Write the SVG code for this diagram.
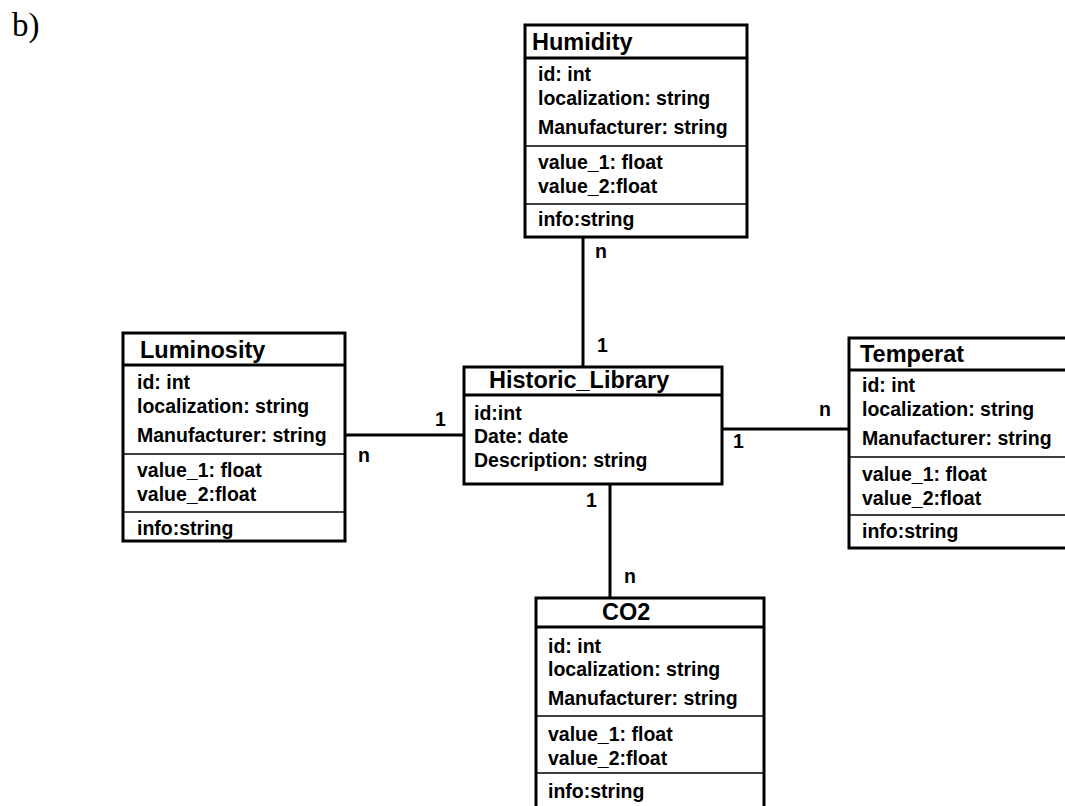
<svg xmlns="http://www.w3.org/2000/svg" width="1065" height="806" viewBox="0 0 1065 806">
<style>
.box{fill:#fff;stroke:#000;stroke-width:3}
.thick{stroke:#000;stroke-width:3}
.thin{stroke:#000;stroke-width:1.5}
.title{font-family:"Liberation Sans",Arial,sans-serif;font-weight:bold;font-size:23.5px;fill:#000}
.attr{font-family:"Liberation Sans",Arial,sans-serif;font-weight:bold;font-size:19.5px;fill:#000}
.lbl{font-family:"Liberation Sans",Arial,sans-serif;font-weight:bold;font-size:19.5px;fill:#000}
.conn{stroke:#000;stroke-width:3;fill:none}
</style>
<rect width="1065" height="806" fill="#fff"/>
<text x="12" y="36" font-family="Liberation Serif,'Times New Roman',serif" font-size="33">b)</text>

<g id="connectors">
<line class="conn" x1="583" y1="237" x2="583" y2="367"/>
<line class="conn" x1="345" y1="435" x2="464" y2="435"/>
<line class="conn" x1="722" y1="429" x2="849" y2="429"/>
<line class="conn" x1="610" y1="484" x2="610" y2="598"/>
<text class="lbl" x="595" y="258">n</text>
<text class="lbl" x="597" y="352">1</text>
<text class="lbl" x="435" y="426">1</text>
<text class="lbl" x="358" y="462">n</text>
<text class="lbl" x="819" y="416">n</text>
<text class="lbl" x="733" y="448">1</text>
<text class="lbl" x="586" y="507">1</text>
<text class="lbl" x="624" y="583">n</text>
</g>

<g id="humidity">
<rect class="box" x="525" y="25" width="222" height="212"/>
<line class="thick" x1="525" y1="58" x2="747" y2="58"/>
<line class="thin" x1="525" y1="146" x2="747" y2="146"/>
<line class="thin" x1="525" y1="204" x2="747" y2="204"/>
<text class="title" x="532" y="50">Humidity</text>
<text class="attr" x="538" y="81">id: int</text>
<text class="attr" x="538" y="105">localization: string</text>
<text class="attr" x="538" y="134">Manufacturer: string</text>
<text class="attr" x="538" y="169">value_1: float</text>
<text class="attr" x="538" y="193">value_2:float</text>
<text class="attr" x="538" y="226">info:string</text>
</g>

<g id="luminosity">
<rect class="box" x="123" y="333" width="222" height="208"/>
<line class="thick" x1="123" y1="365" x2="345" y2="365"/>
<line class="thin" x1="123" y1="454" x2="345" y2="454"/>
<line class="thin" x1="123" y1="512" x2="345" y2="512"/>
<text class="title" x="140" y="358">Luminosity</text>
<text class="attr" x="137" y="389">id: int</text>
<text class="attr" x="137" y="413">localization: string</text>
<text class="attr" x="137" y="442">Manufacturer: string</text>
<text class="attr" x="137" y="477">value_1: float</text>
<text class="attr" x="137" y="501">value_2:float</text>
<text class="attr" x="137" y="535">info:string</text>
</g>

<g id="historic_library">
<rect class="box" x="464" y="367" width="258" height="117"/>
<line class="thick" x1="464" y1="395" x2="722" y2="395"/>
<text class="title" x="489" y="388" font-size="24">Historic_Library</text>
<text class="attr" x="474" y="420">id:int</text>
<text class="attr" x="474" y="443">Date: date</text>
<text class="attr" x="474" y="467">Description: string</text>
</g>

<g id="temperat">
<rect class="box" x="849" y="338" width="230" height="210"/>
<line class="thick" x1="849" y1="370" x2="1079" y2="370"/>
<line class="thin" x1="849" y1="457" x2="1079" y2="457"/>
<line class="thin" x1="849" y1="515" x2="1079" y2="515"/>
<text class="title" x="860" y="362">Temperat</text>
<text class="attr" x="862" y="392">id: int</text>
<text class="attr" x="862" y="416">localization: string</text>
<text class="attr" x="862" y="445">Manufacturer: string</text>
<text class="attr" x="862" y="481">value_1: float</text>
<text class="attr" x="862" y="505">value_2:float</text>
<text class="attr" x="862" y="538">info:string</text>
</g>

<g id="co2">
<rect class="box" x="536" y="598" width="228" height="220"/>
<line class="thick" x1="536" y1="627" x2="764" y2="627"/>
<line class="thin" x1="536" y1="716" x2="764" y2="716"/>
<line class="thin" x1="536" y1="773" x2="764" y2="773"/>
<text class="title" x="602" y="620">CO2</text>
<text class="attr" x="548" y="653">id: int</text>
<text class="attr" x="548" y="676">localization: string</text>
<text class="attr" x="548" y="705">Manufacturer: string</text>
<text class="attr" x="548" y="741">value_1: float</text>
<text class="attr" x="548" y="765">value_2:float</text>
<text class="attr" x="548" y="798">info:string</text>
</g>
</svg>
